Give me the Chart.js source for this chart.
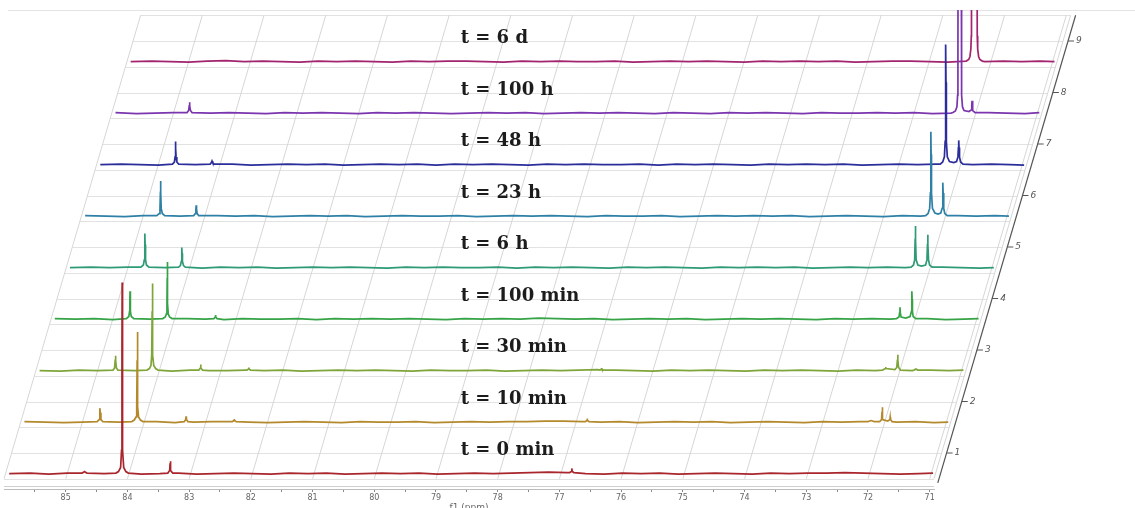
<!DOCTYPE html>
<html>
<head>
<meta charset="utf-8">
<title>NMR stack</title>
<script src="https://cdn.jsdelivr.net/npm/chart.js@4.4.1/dist/chart.umd.min.js"></script>
<style>
    html, body { margin: 0; padding: 0; background: #fff; overflow: hidden; }
    body { width: 1135px; height: 508px; }
    #wrap { position: relative; width: 1135px; height: 516px; }
</style>
</head>
<body>
<div id="wrap"><canvas id="nmr"></canvas></div>
<script>
// spectra from bottom (t = 0) to top (t = 6 d)
const timeLabels = ['t = 0 min', 't = 10 min', 't = 30 min', 't = 100 min', 't = 6 h', 't = 23 h', 't = 48 h', 't = 100 h', 't = 6 d'];
const traceColors = ['#a8262c', '#b3892c', '#7fa53a', '#35a346', '#2e9a76', '#2f80a6', '#2b2e9a', '#7b35ae', '#a2246e'];
const stackTicks = [1, 2, 3, 4, 5, 6, 7, 8, 9];
const ppmTicks = [85, 84, 83, 82, 81, 80, 79, 78, 77, 76, 75, 74, 73, 72, 71];

// baseline samples (ppm) and the noise read at them for each spectrum
const noiseGrid = [85.94, 85.6, 85.3, 85.0, 84.7, 84.4, 84.1, 83.8, 83.5, 83.2,
    82.9, 82.6, 82.3, 82.0, 81.7, 81.4, 81.1, 80.8, 80.5, 80.2,
    79.9, 79.6, 79.3, 79.0, 78.7, 78.4, 78.1, 77.8, 77.5, 77.2,
    76.9, 76.6, 76.3, 76.0, 75.7, 75.4, 75.1, 74.8, 74.5, 74.2,
    73.9, 73.6, 73.3, 73.0, 72.7, 72.4, 72.1, 71.8, 71.5, 71.2, 70.97];

const noise0min = [0, 0.01, -0.01, 0.01, 0.02, 0, 0, -0.01, 0, 0.01,
    -0.01, 0, 0.01, 0, -0.01, 0.01, 0, 0.01, -0.01, 0,
    0.01, 0, 0.01, -0.01, 0, 0.01, 0, 0.01, 0.02, 0.03,
    0.02, 0, -0.01, 0.01, 0, 0.01, -0.01, 0, 0.01, 0,
    -0.01, 0.01, 0, 0.01, 0.01, 0.02, 0.01, 0, -0.01, 0, 0.01];
const noise10min = [0.01, 0, -0.01, 0, 0.01, 0, 0, 0.01, -0.01, 0,
    0.01, 0.01, 0, -0.01, 0, 0.01, 0, -0.01, 0.01, 0,
    0, 0.01, -0.01, 0, 0.01, 0, 0.01, 0.01, 0.02, 0.02,
    0.01, 0, 0.01, -0.01, 0, 0.01, 0, 0.01, -0.01, 0,
    0.01, 0, -0.01, 0.01, 0, 0.01, 0.01, 0, 0.01, -0.01, 0];
const noise30min = [0, -0.01, 0.01, 0, 0.01, 0, 0, -0.01, 0.01, 0,
    0, 0.01, 0, 0.01, -0.01, 0, 0.01, 0, 0.01, 0,
    -0.01, 0.01, 0, 0, 0.01, -0.01, 0, 0.01, 0, 0.01,
    0.02, 0.01, 0, -0.01, 0.01, 0, 0.01, 0, -0.01, 0.01,
    0, 0.01, 0, -0.01, 0.01, 0, 0.01, 0, 0.01, 0, 0.01];
const noise100min = [0.01, 0, 0.01, -0.01, 0, 0, 0, 0.01, 0, -0.01,
    0.01, 0, 0, 0.01, -0.01, 0.01, 0, 0.01, 0, 0.01,
    0, -0.01, 0.01, 0, 0.01, 0, 0.02, 0.01, 0, 0.01,
    -0.01, 0, 0.01, 0, 0.01, -0.01, 0, 0.01, 0, 0.01,
    0, -0.01, 0.01, 0, 0.01, 0, 0, 0.01, -0.01, 0, 0.01];
const noise6h = [0, 0.01, 0, 0.01, 0, 0, 0, -0.01, 0.01, 0,
    0.01, -0.01, 0, 0.01, 0, 0.01, 0, -0.01, 0.01, 0,
    0.01, 0, 0, 0.01, -0.01, 0.01, 0, 0.01, 0, -0.01,
    0.01, 0, 0.01, 0, -0.01, 0.01, 0, 0.01, 0, 0.01,
    -0.01, 0, 0.01, 0, 0.01, 0, 0, 0.01, 0, -0.01, 0];
const noise23h = [0.01, 0, -0.01, 0.01, 0, 0, 0, 0.01, 0, 0.01,
    -0.01, 0, 0.01, 0, 0.01, -0.01, 0, 0.01, 0, 0,
    0.01, -0.01, 0, 0.01, 0, 0.01, 0, -0.01, 0.01, 0,
    0, 0.01, -0.01, 0, 0.01, 0, 0.01, 0, 0.01, -0.01,
    0, 0.01, 0, -0.01, 0.01, 0, 0, 0.01, 0, 0.01, 0];
const noise48h = [0, 0.01, 0, -0.01, 0, 0, 0, 0.01, -0.01, 0,
    0.01, 0, 0.01, -0.01, 0, 0.01, 0, 0.01, -0.01, 0.01,
    0, 0.01, 0, -0.01, 0.01, 0, 0.01, 0, 0, 0.01,
    -0.01, 0.01, 0, 0.01, 0, -0.01, 0.01, 0, 0.01, 0,
    0.01, -0.01, 0, 0.01, 0, 0.01, 0, 0, 0.01, 0, -0.01];
const noise100h = [0.01, -0.01, 0, 0.01, 0, 0, 0.01, 0, -0.01, 0.01,
    0, 0.01, 0, -0.01, 0.01, 0, 0.01, 0, -0.01, 0,
    0.01, 0, 0.01, -0.01, 0, 0.01, 0, 0.01, 0, -0.01,
    0.01, 0, -0.01, 0.01, 0, 0.01, 0, -0.01, 0.01, 0,
    0, 0.01, 0, 0.01, -0.01, 0, 0, 0.01, 0, -0.01, 0.01];
const noise6d = [0, 0.01, 0, -0.01, 0.01, 0.02, 0, 0.01, 0, -0.01,
    0.01, 0, 0.01, 0, -0.01, 0.01, 0, 0.01, 0.01, 0,
    -0.01, 0.01, 0, 0.01, 0, 0, 0.01, -0.01, 0, 0.01,
    0, 0.01, 0, -0.01, 0.01, 0, 0.01, 0, 0.01, -0.01,
    0, 0.01, 0.01, 0, -0.01, 0, 0, 0.01, 0, 0.01, 0];

// peaks: [ppm, intensity] points, intensity in units of the stack step
const peaks0min = [
    [[84.76, 0.01], [84.73, 0.03], [84.72, 0.04], [84.71, 0.03], [84.68, 0.01]],
    [[84.21, 0.01], [84.17, 0.04], [84.135, 0.12], [84.12, 0.45], [84.113, 2.4], [84.11, 3.71], [84.107, 2.4], [84.10, 0.45], [84.085, 0.12], [84.05, 0.04], [84.01, 0.01]],
    [[83.37, 0.01], [83.34, 0.06], [83.333, 0.2], [83.33, 0.24], [83.327, 0.2], [83.32, 0.06], [83.29, 0.01]],
    [[76.86, 0.02], [76.83, 0.04], [76.823, 0.1], [76.817, 0.04], [76.79, 0.02]]
];
const peaks10min = [
    [[84.76, 0.01], [84.73, 0.05], [84.72, 0.18], [84.715, 0.27], [84.71, 0.18], [84.70, 0.05], [84.67, 0.01]],
    [[84.20, 0.01], [84.16, 0.04], [84.13, 0.1], [84.12, 0.3], [84.113, 1.2], [84.11, 1.75], [84.107, 1.2], [84.10, 0.3], [84.09, 0.1], [84.06, 0.04], [84.02, 0.01]],
    [[83.35, 0.01], [83.325, 0.05], [83.32, 0.11], [83.315, 0.05], [83.29, 0.01]],
    [[82.57, 0.01], [82.543, 0.03], [82.54, 0.06], [82.537, 0.03], [82.51, 0.01]],
    [[76.85, 0.01], [76.823, 0.03], [76.82, 0.07], [76.817, 0.03], [76.79, 0.01]],
    [[72.27, 0.01], [72.22, 0.03], [72.17, 0.01]],
    [[72.08, 0.01], [72.05, 0.05], [72.043, 0.2], [72.04, 0.29], [72.037, 0.2], [72.03, 0.05], [71.95, 0.02], [71.915, 0.05], [71.91, 0.1], [71.905, 0.05], [71.88, 0.01]]
];
const peaks30min = [
    [[84.75, 0.01], [84.725, 0.05], [84.715, 0.2], [84.71, 0.29], [84.705, 0.2], [84.695, 0.05], [84.67, 0.01]],
    [[84.20, 0.01], [84.16, 0.04], [84.135, 0.1], [84.123, 0.3], [84.116, 1.15], [84.113, 1.69], [84.11, 1.15], [84.103, 0.3], [84.09, 0.1], [84.06, 0.04], [84.02, 0.01]],
    [[83.36, 0.01], [83.335, 0.05], [83.33, 0.12], [83.325, 0.05], [83.30, 0.01]],
    [[82.58, 0.01], [82.553, 0.03], [82.55, 0.06], [82.547, 0.03], [82.52, 0.01]],
    [[76.86, 0.01], [76.833, 0.03], [76.83, 0.05], [76.827, 0.02], [76.80, 0.01]],
    [[72.28, 0.01], [72.235, 0.04], [72.23, 0.07], [72.225, 0.04], [72.08, 0.02], [72.05, 0.06], [72.04, 0.2], [72.035, 0.31], [72.03, 0.2], [72.02, 0.06], [71.99, 0.01]],
    [[71.77, 0.01], [71.74, 0.03], [71.71, 0.01]]
];
const peaks100min = [
    [[84.78, 0.01], [84.74, 0.05], [84.728, 0.15], [84.723, 0.38], [84.72, 0.54], [84.717, 0.38], [84.712, 0.15], [84.70, 0.05], [84.66, 0.01]],
    [[84.19, 0.01], [84.15, 0.04], [84.13, 0.1], [84.122, 0.3], [84.118, 0.8], [84.116, 1.11], [84.114, 0.8], [84.11, 0.3], [84.10, 0.1], [84.08, 0.04], [84.04, 0.01]],
    [[83.36, 0.01], [83.34, 0.04], [83.335, 0.08], [83.33, 0.04], [83.31, 0.01]],
    [[72.30, 0.01], [72.26, 0.04], [72.25, 0.12], [72.244, 0.23], [72.238, 0.12], [72.225, 0.04], [72.15, 0.02], [72.08, 0.05], [72.058, 0.15], [72.053, 0.38], [72.05, 0.54], [72.047, 0.38], [72.042, 0.15], [72.03, 0.05], [71.99, 0.01]]
];
const peaks6h = [
    [[84.79, 0.01], [84.75, 0.05], [84.735, 0.15], [84.728, 0.45], [84.725, 0.66], [84.722, 0.45], [84.715, 0.15], [84.70, 0.05], [84.66, 0.01]],
    [[84.18, 0.01], [84.15, 0.04], [84.135, 0.12], [84.129, 0.28], [84.126, 0.39], [84.123, 0.28], [84.117, 0.12], [84.10, 0.04], [84.07, 0.01]],
    [[72.31, 0.01], [72.27, 0.05], [72.252, 0.15], [72.244, 0.55], [72.24, 0.81], [72.236, 0.55], [72.228, 0.15], [72.20, 0.05], [72.14, 0.03], [72.075, 0.05], [72.053, 0.15], [72.044, 0.45], [72.04, 0.64], [72.036, 0.45], [72.027, 0.15], [72.01, 0.05], [71.97, 0.01]]
];
const peaks23h = [
    [[84.78, 0.01], [84.74, 0.05], [84.727, 0.15], [84.72, 0.46], [84.717, 0.68], [84.714, 0.46], [84.707, 0.15], [84.69, 0.05], [84.65, 0.01]],
    [[84.18, 0.01], [84.155, 0.05], [84.145, 0.14], [84.14, 0.21], [84.135, 0.14], [84.125, 0.05], [84.10, 0.01]],
    [[72.32, 0.01], [72.28, 0.05], [72.255, 0.15], [72.243, 0.45], [72.237, 1.2], [72.234, 1.64], [72.231, 1.2], [72.225, 0.45], [72.21, 0.15], [72.17, 0.06], [72.12, 0.04], [72.075, 0.06], [72.053, 0.15], [72.044, 0.45], [72.04, 0.65], [72.036, 0.45], [72.027, 0.15], [72.01, 0.05], [71.97, 0.01]]
];
const peaks48h = [
    [[84.77, 0.01], [84.74, 0.05], [84.728, 0.15], [84.723, 0.32], [84.72, 0.45], [84.717, 0.32], [84.712, 0.15], [84.70, 0.05], [84.67, 0.01]],
    [[84.16, 0.01], [84.14, 0.04], [84.13, 0.07], [84.12, 0.04], [84.10, 0.01]],
    [[72.33, 0.01], [72.29, 0.05], [72.262, 0.15], [72.25, 0.45], [72.244, 1.6], [72.24, 2.33], [72.236, 1.6], [72.23, 0.45], [72.215, 0.15], [72.18, 0.06], [72.11, 0.04], [72.065, 0.06], [72.043, 0.15], [72.035, 0.33], [72.03, 0.47], [72.025, 0.33], [72.017, 0.15], [72.0, 0.05], [71.96, 0.01]]
];
const peaks100h = [
    [[84.78, 0.01], [84.755, 0.05], [84.745, 0.14], [84.74, 0.21], [84.735, 0.14], [84.725, 0.05], [84.70, 0.01]],
    [[72.37, 0.01], [72.33, 0.04], [72.305, 0.12], [72.294, 0.35], [72.289, 0.9], [72.287, 3.0], [72.234, 3.0], [72.232, 0.9], [72.227, 0.35], [72.215, 0.12], [72.19, 0.05], [72.11, 0.03], [72.075, 0.06], [72.065, 0.15], [72.06, 0.24], [72.055, 0.15], [72.045, 0.05], [72.01, 0.01]]
];
const peaks6d = [
    [[72.40, 0.01], [72.36, 0.04], [72.34, 0.1], [72.325, 0.25], [72.318, 0.5], [72.315, 3.0], [72.226, 3.0], [72.222, 0.5], [72.215, 0.25], [72.20, 0.1], [72.18, 0.04], [72.14, 0.01]]
];

const noiseSets = [noise0min, noise10min, noise30min, noise100min, noise6h, noise23h, noise48h, noise100h, noise6d];
const peakSets = [peaks0min, peaks10min, peaks30min, peaks100min, peaks6h, peaks23h, peaks48h, peaks100h, peaks6d];

// layout of the stacked plane
const PPM_MIN = 70.93;
const PPM_MAX = 86.0;
const SKEW = 0.246;        // ppm shift of the plane per stack step
const BASE_DROP = 0.4;     // each baseline sits this far below its stack tick
const LABEL_PPM = 78.6;

/**
 * Merge baseline samples and peak points into one trace
 */
function buildTrace(noise, peaks, base) {
    const pts = [];
    noiseGrid.forEach((p, k) => {
        const covered = peaks.some(pk => p <= pk[0][0] && p >= pk[pk.length - 1][0]);
        if (!covered) pts.push({ x: p, y: base + (noise[k] || 0) });
    });
    peaks.forEach(pk => pk.forEach(([p, h]) => pts.push({ x: p, y: base + h })));
    pts.sort((a, b) => b.x - a.x);
    return pts;
}

function planeX(chart, ppm, v) {
    return chart.scales.x.getPixelForValue(ppm - SKEW * (v - 0.5));
}

const skewGrid = {
    id: 'skewGrid',
    beforeDatasetsDraw(chart) {
        const ctx = chart.ctx;
        const y = chart.scales.y;
        ctx.save();
        ctx.lineWidth = 1;

        // page top rule
        ctx.strokeStyle = '#e3e3e3';
        ctx.beginPath();
        ctx.moveTo(8, 10.5);
        ctx.lineTo(1135, 10.5);
        ctx.stroke();

        // horizontal lines of the plane
        ctx.strokeStyle = '#e2e2e2';
        for (let v = 0.5; v <= 9.5; v += 0.5) {
            const py = Math.round(y.getPixelForValue(v)) + 0.5;
            ctx.beginPath();
            ctx.moveTo(planeX(chart, PPM_MAX, v), py);
            ctx.lineTo(planeX(chart, PPM_MIN, v), py);
            ctx.stroke();
        }

        // slanted ppm lines and plane edges
        ctx.strokeStyle = '#d6d6d6';
        [PPM_MAX, ...ppmTicks, PPM_MIN].forEach(p => {
            ctx.beginPath();
            ctx.moveTo(planeX(chart, p, 0.5), y.getPixelForValue(0.5));
            ctx.lineTo(planeX(chart, p, 9.5), y.getPixelForValue(9.5));
            ctx.stroke();
        });

        // second rule under the ppm axis
        const xs = chart.scales.x;
        ctx.strokeStyle = '#cfcfcf';
        ctx.beginPath();
        ctx.moveTo(xs.left, chart.chartArea.bottom - 2.5);
        ctx.lineTo(xs.right, chart.chartArea.bottom - 2.5);
        ctx.stroke();
        ctx.restore();
    },
    afterDatasetsDraw(chart) {
        const ctx = chart.ctx;
        const y = chart.scales.y;
        ctx.save();

        // slanted stack axis on the right
        const ax = v => planeX(chart, PPM_MIN, v) + 5;
        ctx.strokeStyle = '#555';
        ctx.lineWidth = 1.2;
        ctx.beginPath();
        ctx.moveTo(ax(0.42), y.getPixelForValue(0.42));
        ctx.lineTo(ax(9.5), y.getPixelForValue(9.5));
        ctx.stroke();

        ctx.lineWidth = 1;
        ctx.fillStyle = '#555';
        ctx.font = 'italic 9px "DejaVu Sans"';
        ctx.textBaseline = 'middle';
        stackTicks.forEach(v => {
            const py = y.getPixelForValue(v);
            ctx.beginPath();
            ctx.moveTo(ax(v), py);
            ctx.lineTo(ax(v) + 6, py);
            ctx.stroke();
            ctx.fillText(String(v), ax(v) + 8, py);
        });

        // time labels
        ctx.fillStyle = '#1c1c1c';
        ctx.font = 'bold 18px "DejaVu Serif"';
        ctx.textBaseline = 'alphabetic';
        const lx = chart.scales.x.getPixelForValue(LABEL_PPM);
        timeLabels.forEach((t, i) => {
            ctx.fillText(t, lx, y.getPixelForValue(i + 1.08) + 6.5);
        });
        ctx.restore();
    }
};

function init() {
    const scales = {
        x: {
            type: 'linear',
            position: 'bottom',
            reverse: true,
            min: PPM_MIN,
            max: PPM_MAX,
            afterBuildTicks: s => { s.ticks = s.ticks.filter(t => t.value < 85.9 && t.value > 70.95); },
            afterFit: s => { s.height = 27; },
            ticks: {
                stepSize: 0.5,
                includeBounds: false,
                autoSkip: false,
                maxRotation: 0,
                padding: 1,
                color: '#666',
                font: { family: 'DejaVu Sans', size: 8 },
                callback: v => Number.isInteger(v) ? String(v) : ''
            },
            grid: { drawOnChartArea: false, drawTicks: true, tickLength: 3, color: '#888' },
            border: { color: '#bbb', width: 1 },
            title: {
                display: true,
                text: 'f1 (ppm)',
                color: '#666',
                font: { family: 'DejaVu Sans', size: 9 },
                padding: { top: 0, bottom: 3 }
            }
        },
        y: { display: false, min: 0.301, max: 9.602 }
    };

    const datasets = timeLabels.map((label, i) => {
        const base = i + 1 - BASE_DROP;
        const shift = SKEW * (base - 0.5);
        const id = 'x' + (i + 1);
        scales[id] = { type: 'linear', display: false, reverse: true, min: PPM_MIN + shift, max: PPM_MAX + shift };
        return {
            label: label,
            data: buildTrace(noiseSets[i], peakSets[i], base),
            xAxisID: id,
            yAxisID: 'y',
            borderColor: traceColors[i],
            borderWidth: 1.7,
            pointRadius: 0,
            tension: 0,
            fill: false,
            clip: { left: false, right: false, top: 0, bottom: false }
        };
    });

    new Chart(document.getElementById('nmr'), {
        type: 'line',
        data: { datasets: datasets },
        options: {
            responsive: true,
            maintainAspectRatio: false,
            animation: false,
            layout: { padding: { top: 10, left: 4, right: 201, bottom: 0 } },
            plugins: { legend: { display: false }, tooltip: { enabled: false } },
            scales: scales
        },
        plugins: [skewGrid]
    });
}

init();
</script>
</body>
</html>
